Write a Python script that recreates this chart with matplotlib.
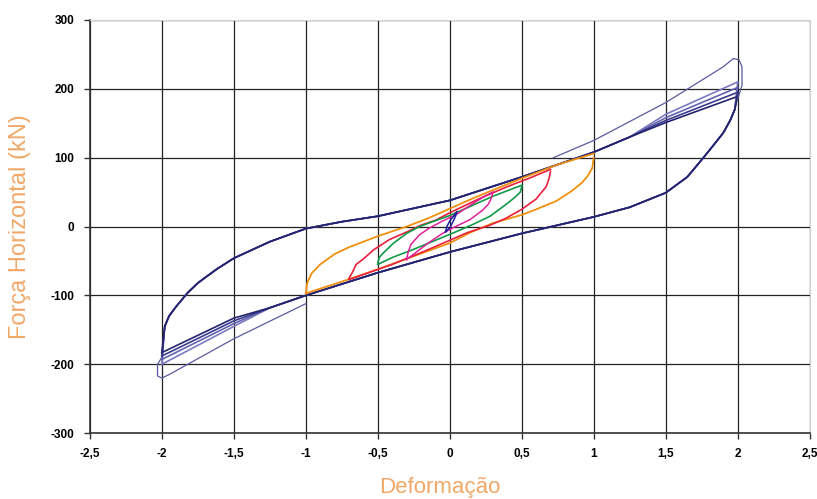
import numpy as np
import matplotlib
matplotlib.use("Agg")
import matplotlib.pyplot as plt

plt.rcParams['font.family'] = ['Liberation Sans', 'DejaVu Sans']
plt.rcParams['axes.unicode_minus'] = False

# main +/-2 loop, shared middle part of the branches
up_body_x = [-1.98, -1.95, -1.9, -1.82, -1.75, -1.62, -1.5, -1.25, -1.0, -0.75, -0.5, 0.0, 0.5, 1.0, 1.25]
up_body_y = [-145, -130, -116, -96, -82, -62, -46, -22, -3, 7, 15, 38, 72, 108, 130]
lo_body_x = [1.98, 1.95, 1.9, 1.82, 1.75, 1.65, 1.5, 1.25, 1.0, 0.5, 0.0, -0.5, -1.0, -1.25]
lo_body_y = [170, 155, 136, 115, 97, 72, 49, 28, 14, -10, -37, -67, -100, -118]
# per cycle values near the ends
up_mid_pos = [163, 158, 154, 151]   # upper branch at d = 1.5
peak_pos = [210, 202, 195, 189]     # at d = 2
lo_mid_neg = [-145, -141, -137, -133]  # lower branch at d = -1.5
peak_neg = [-200, -193, -188, -183]    # at d = -2
cycle_colors = ['#7a7ac0', '#6262ae', '#3a3a8e', '#23236e']

# first (virgin) excursions to +2 and -2
first_pos_x = [0.72, 1.0, 1.5, 1.9, 1.97, 2.01, 2.03, 2.03, 2.0]
first_pos_y = [100, 125, 180, 232, 244, 242, 232, 205, 185]
first_neg_x = [-1.0, -1.5, -1.95, -2.0, -2.03, -2.03, -2.0]
first_neg_y = [-112, -163, -215, -220, -217, -200, -190]

# smaller loops (upper branch left->right, lower branch right->left)
orange_up_x = [-1.0, -0.99, -0.96, -0.9, -0.8, -0.7, -0.5, -0.3, -0.15, 0.0, 0.15, 0.3, 0.5, 0.75, 1.0]
orange_up_y = [-97, -82, -68, -55, -40, -30, -14, 0, 12, 26, 40, 53, 70, 90, 106]
orange_lo_x = [1.0, 0.99, 0.96, 0.92, 0.85, 0.74, 0.6, 0.5, 0.3, 0.15, 0.0, -0.25, -0.5, -0.75, -1.0]
orange_lo_y = [100, 85, 74, 64, 52, 37, 25, 17, 5, -8, -24, -43, -62, -80, -97]

red_up_x = [-0.7, -0.68, -0.65, -0.6, -0.53, -0.42, -0.3, -0.2, -0.1, 0.0, 0.2, 0.4, 0.55, 0.7]
red_up_y = [-75, -68, -55, -47, -34, -19, -8, 2, 9, 20, 40, 58, 70, 83]
red_lo_x = [0.7, 0.69, 0.67, 0.6, 0.5, 0.39, 0.28, 0.12, 0.0, -0.2, -0.4, -0.55, -0.7]
red_lo_y = [80, 70, 58, 40, 25, 12, 2, -9, -20, -38, -55, -66, -77]

green_up_x = [-0.5, -0.49, -0.46, -0.39, -0.3, -0.21, -0.12, 0.0, 0.15, 0.3, 0.5]
green_up_y = [-53, -45, -38, -24, -10, 0, 7, 16, 30, 44, 60]
green_lo_x = [0.5, 0.49, 0.45, 0.39, 0.28, 0.16, 0.05, -0.1, -0.25, -0.4, -0.5]
green_lo_y = [58, 50, 42, 32, 15, 3, -7, -20, -33, -45, -55]

pink_up_x = [-0.3, -0.29, -0.27, -0.21, -0.14, -0.05, 0.05, 0.15, 0.25, 0.3]
pink_up_y = [-48, -38, -26, -12, -2, 8, 18, 32, 45, 50]
pink_lo_x = [0.3, 0.29, 0.27, 0.23, 0.14, 0.02, -0.05, -0.15, -0.25, -0.3]
pink_lo_y = [50, 42, 33, 24, 10, -2, -10, -24, -40, -48]

small_x = [-0.03, -0.02, 0.0, 0.03, 0.05, 0.04, 0.02, 0.0, -0.02, -0.03]
small_y = [-8, 0, 8, 16, 22, 15, 6, -2, -6, -8]

x_ticks = [-2.5, -2, -1.5, -1, -0.5, 0, 0.5, 1, 1.5, 2, 2.5]
x_labels = ['-2,5', '-2', '-1,5', '-1', '-0,5', '0', '0,5', '1', '1,5', '2', '2,5']
y_ticks = [-300, -200, -100, 0, 100, 200, 300]

fig = plt.figure(figsize=(8.17, 4.99), dpi=100)
ax = fig.add_axes([0.110, 0.132, 0.881, 0.828])

# main cycles
for i in range(len(peak_pos)):
    ux = [-2.0] + up_body_x + [1.5, 2.0]
    uy = [peak_neg[i]] + up_body_y + [up_mid_pos[i], peak_pos[i]]
    lx = [2.0] + lo_body_x + [-1.5, -2.0]
    ly = [peak_pos[i]] + lo_body_y + [lo_mid_neg[i], peak_neg[i]]
    ax.plot(ux, uy, color=cycle_colors[i], lw=1.2)
    ax.plot(lx, ly, color=cycle_colors[i], lw=1.2)

ax.plot(first_pos_x, first_pos_y, color='#5a5aa0', lw=0.9)
ax.plot(first_neg_x, first_neg_y, color='#5a5aa0', lw=0.9)

ax.plot(orange_up_x, orange_up_y, color='#f0900f', lw=1.3)
ax.plot(orange_lo_x, orange_lo_y, color='#f0900f', lw=1.3)
ax.plot(red_up_x, red_up_y, color='#e8203c', lw=1.2)
ax.plot(red_lo_x, red_lo_y, color='#e8203c', lw=1.2)
ax.plot(green_up_x, green_up_y, color='#109a48', lw=1.2)
ax.plot(green_lo_x, green_lo_y, color='#109a48', lw=1.2)
ax.plot(pink_up_x, pink_up_y, color='#e0209a', lw=1.1)
ax.plot(pink_lo_x, pink_lo_y, color='#e0209a', lw=1.1)
ax.plot(small_x, small_y, color='#2020a0', lw=1.1)

ax.set_xlim(-2.5, 2.5)
ax.set_ylim(-300, 300)
ax.set_xticks(x_ticks)
ax.set_xticklabels(x_labels)
ax.set_yticks(y_ticks)
ax.grid(True, color='#222222', lw=0.9)
ax.set_axisbelow(True)

for s in ['top', 'right']:
    ax.spines[s].set_color('#d0d0d0')
for s in ['left', 'bottom']:
    ax.spines[s].set_color('#333333')
    ax.spines[s].set_linewidth(1.2)
ax.tick_params(length=4, width=1, color='#333333', labelsize=8.5, pad=7)
for lab in ax.get_xticklabels() + ax.get_yticklabels():
    lab.set_fontweight('bold')

fig.text(440 / 817, 1 - 487 / 499, 'Deformação', color='#f0a868', fontsize=16,
         ha='center', va='center')
ax.set_ylabel('Força Horizontal (kN)', color='#f0a868', fontsize=17, labelpad=14)

fig.savefig('out.png', dpi=100)
